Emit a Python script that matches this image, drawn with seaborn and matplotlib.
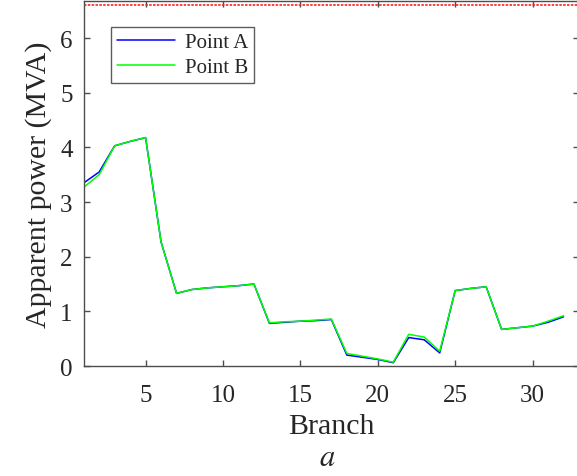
import numpy as np
import pandas as pd
import matplotlib
matplotlib.use("Agg")
import matplotlib.pyplot as plt
import seaborn as sns

branches = list(range(1, 33))
point_a = [3.35, 3.55, 4.03, 4.11, 4.18, 2.27, 1.33, 1.40, 1.43, 1.45, 1.47, 1.50,
           0.78, 0.80, 0.82, 0.83, 0.85, 0.20, 0.16, 0.12, 0.06, 0.52, 0.48, 0.24,
           1.38, 1.42, 1.45, 0.67, 0.70, 0.73, 0.80, 0.90]
point_b = [3.27, 3.50, 4.03, 4.11, 4.18, 2.27, 1.33, 1.40, 1.43, 1.45, 1.47, 1.50,
           0.79, 0.81, 0.82, 0.84, 0.86, 0.23, 0.18, 0.13, 0.07, 0.58, 0.53, 0.27,
           1.38, 1.42, 1.45, 0.67, 0.70, 0.73, 0.82, 0.92]
limit_value = 6.6
series_names = ["Point A", "Point B"]

sns.set_theme(style="white")
plt.rcParams["font.family"] = ["Liberation Serif", "DejaVu Serif"]
plt.rcParams["mathtext.fontset"] = "stix"

df = pd.DataFrame({
    "Branch": branches * 2,
    "Power": point_a + point_b,
    "Series": [series_names[0]] * len(branches) + [series_names[1]] * len(branches),
})

fig = plt.figure(figsize=(5.77, 4.77), dpi=100)
ax = fig.add_axes([0.145, 0.2306, 0.8585, 0.7652])

sns.lineplot(data=df, x="Branch", y="Power", hue="Series",
             palette={"Point A": "#0000ff", "Point B": "#00ff00"},
             linewidth=1.1, ax=ax, legend=True)
ax.axhline(limit_value, color="#ff2020", linestyle=(0, (1.5, 0.8)), linewidth=1.2)

ax.set_xlim(1, 33)
ax.set_ylim(0, 6.68)
ax.set_xticks([5, 10, 15, 20, 25, 30])
ax.set_yticks([0, 1, 2, 3, 4, 5, 6])

spine_col = "#4d4d4d"
for s in ax.spines.values():
    s.set_color(spine_col)
    s.set_linewidth(1.0)
ax.tick_params(direction="in", length=4, width=1.0, color=spine_col,
               labelsize=18, labelcolor="#262626", top=True, right=True,
               bottom=True, left=True)
ax.tick_params(axis="x", pad=13)
ax.tick_params(axis="y", pad=8)

ax.set_xlabel("Branch", fontsize=21.5, color="#262626", labelpad=5)
ax.set_ylabel("Apparent power (MVA)", fontsize=21.5, color="#262626", labelpad=6)

leg = ax.legend(loc="upper left", bbox_to_anchor=(0.055, 0.93), fontsize=15,
                frameon=True, fancybox=False, edgecolor="#333333",
                handlelength=2.8, borderpad=0.3, labelspacing=0.25,
                handletextpad=0.45, borderaxespad=0)
leg.get_frame().set_linewidth(1.0)
leg.set_title(None)

fig.text(0.567, 0.008, "$a$", fontsize=22, ha="center", va="bottom", color="#262626")

fig.savefig("out.png", dpi=100)
